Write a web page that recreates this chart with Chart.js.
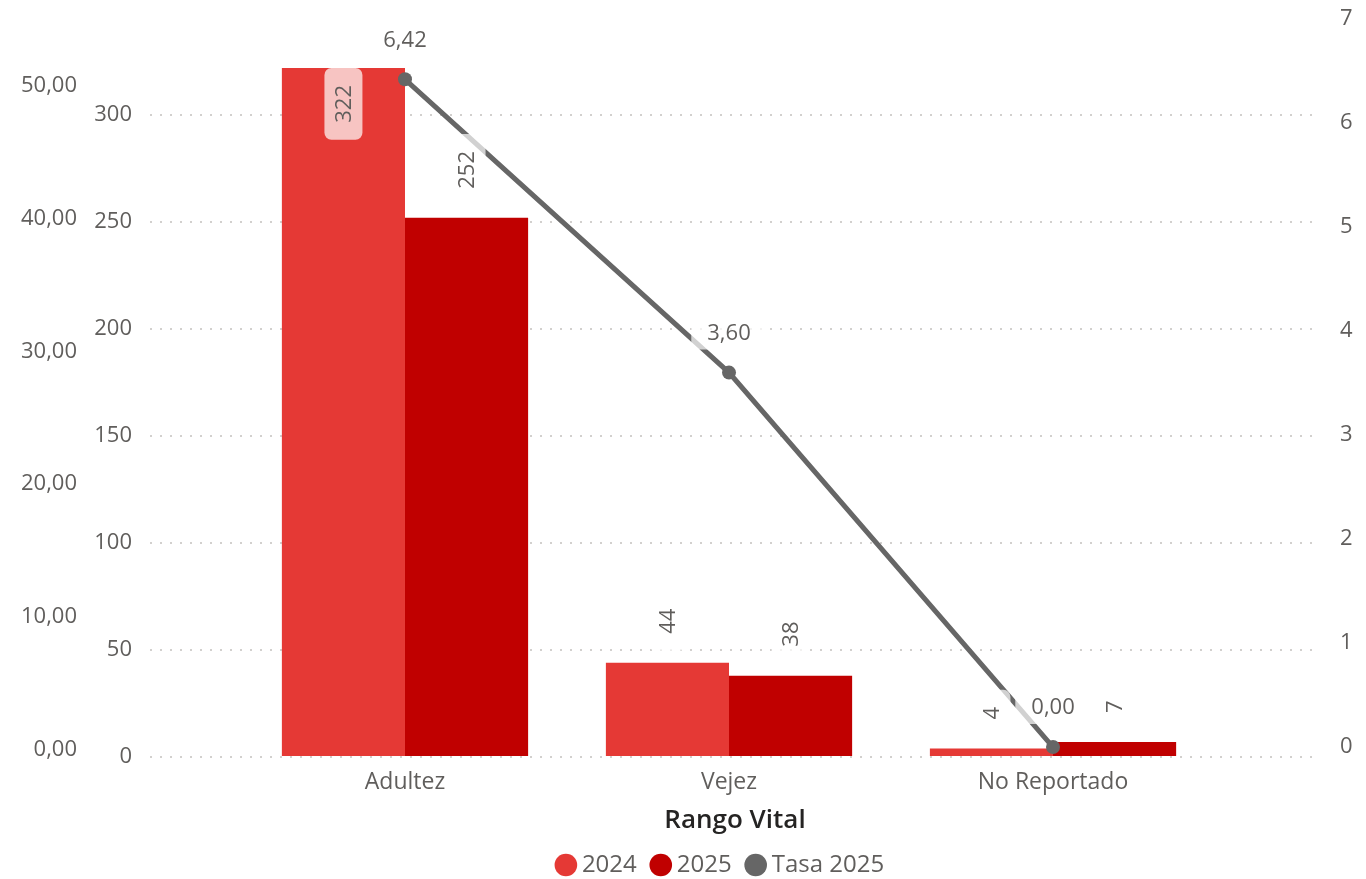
<!DOCTYPE html>
<html>
<head>
<meta charset="utf-8">
<script src="https://cdn.jsdelivr.net/npm/chart.js@4.4.1/dist/chart.umd.min.js"></script>
<style>
  html, body { margin: 0; padding: 0; background: #ffffff; }
</style>
</head>
<body>
<canvas id="myChart" width="1366" height="879"></canvas>
<script>
    var categories = ['Adultez', 'Vejez', 'No Reportado'];
    var casos2024 = [322, 44, 4];
    var casos2025 = [252, 38, 7];
    var tasa2025 = [6.42, 3.60, 0.00];

    var outerTicks = [0, 10, 20, 30, 40, 50];       // eje izquierdo exterior
    var casosTicks = [0, 50, 100, 150, 200, 250, 300];
    var tasaTicks = [0, 1, 2, 3, 4, 5, 6, 7];

    var gris = '#605E5C';
    var fuente = '"Open Sans", "Noto Sans", sans-serif';

    function coma(v) {
        return v.toFixed(2).replace('.', ',');
    }
    function fixedTicks(list) {
        return function(axis) {
            axis.ticks = list.map(function(v) { return { value: v } });
        }
    }
    function noPad(axis, w) {
        axis.width = w;
        axis.paddingTop = 0;
        axis.paddingBottom = 0;
    }
    // rango visible del eje de categorias (Power BI deja margen a los lados)
    function rango(start) {
        return function(axis) {
            axis._startValue = start;
            axis._valueRange = 3.611;
        }
    }

    // etiquetas de datos con fondo semitransparente (como Power BI)
    var etiquetas = {
        id: 'etiquetas',
        afterLayout: function(chart) {
            chart.legend.left += 40;
            chart.legend.right += 40;
        },
        afterDatasetsDraw: function(chart) {
            var ctx = chart.ctx;
            var area = chart.chartArea;
            ctx.save();
            ctx.font = '22px ' + fuente;
            ctx.textAlign = 'center';
            ctx.textBaseline = 'middle';
            for (var d = 0; d < 2; d++) {
                var meta = chart.getDatasetMeta(d);
                for (var i = 0; i < meta.data.length; i++) {
                    var bar = meta.data[i];
                    var txt = String(chart.data.datasets[d].data[i]);
                    var tw = ctx.measureText(txt).width;
                    var w = 38, h = tw + 34;
                    var top = bar.y - 12 - h;
                    if (top < area.top) top = bar.y;
                    ctx.fillStyle = 'rgba(255,255,255,0.7)';
                    ctx.beginPath();
                    ctx.roundRect(bar.x - w / 2, top, w, h, 7);
                    ctx.fill();
                    ctx.save();
                    ctx.translate(bar.x, top + h / 2);
                    ctx.rotate(-Math.PI / 2);
                    ctx.fillStyle = gris;
                    ctx.fillText(txt, 0, 1);
                    ctx.restore();
                }
            }
            var lmeta = chart.getDatasetMeta(2);
            for (var j = 0; j < lmeta.data.length; j++) {
                var pt = lmeta.data[j];
                var t = coma(tasa2025[j]);
                var tw2 = ctx.measureText(t).width;
                var bw = tw2 + 32, bh = 34;
                var cy = pt.y - 40;
                ctx.fillStyle = 'rgba(255,255,255,0.7)';
                ctx.beginPath();
                ctx.roundRect(pt.x - bw / 2, cy - bh / 2, bw, bh, 7);
                ctx.fill();
                ctx.fillStyle = gris;
                ctx.fillText(t, pt.x, cy + 1);
            }
            ctx.restore();
        }
    };

    var ctx = document.getElementById('myChart').getContext('2d');
    var myChart = new Chart(ctx, {
        type: 'bar',
        data: {
            labels: categories,
            datasets: [{
                label: '2024',
                data: casos2024,
                backgroundColor: '#E53935',
                borderWidth: 0,
                categoryPercentage: 0.76,
                barPercentage: 1.0,
                yAxisID: 'yCasos'
            }, {
                label: '2025',
                data: casos2025,
                backgroundColor: '#C00000',
                borderWidth: 0,
                categoryPercentage: 0.76,
                barPercentage: 1.0,
                yAxisID: 'yCasos'
            }, {
                type: 'line',
                label: 'Tasa 2025',
                data: tasa2025,
                borderColor: '#666666',
                backgroundColor: '#666666',
                borderWidth: 5,
                pointRadius: 7,
                pointBorderWidth: 0,
                pointBackgroundColor: '#666666',
                pointStyle: 'circle',
                order: -1,
                yAxisID: 'yTasa'
            }]
        },
        options: {
            responsive: false,
            animation: false,
            layout: { padding: { top: 19, bottom: -8, left: 0, right: 0 } },
            plugins: {
                tooltip: { enabled: false },
                legend: {
                    position: 'bottom',
                    labels: {
                        usePointStyle: true,
                        boxWidth: 8,
                        boxHeight: 16,
                        padding: 20,
                        color: gris,
                        font: { family: fuente, size: 24 },
                        sort: function(a, b) { return a.datasetIndex - b.datasetIndex },
                        generateLabels: function(chart) {
                            var items = Chart.defaults.plugins.legend.labels.generateLabels(chart);
                            items.forEach(function(it) {
                                it.lineWidth = 0;
                                it.strokeStyle = it.fillStyle;
                                it.pointStyle = 'circle';
                            });
                            return items;
                        }
                    }
                }
            },
            scales: {
                x: {
                    type: 'category',
                    position: 'bottom',
                    grid: { display: false, drawTicks: false },
                    border: { display: false },
                    afterBuildTicks: rango(-0.787),
                    ticks: {
                        color: gris,
                        font: { family: fuente, size: 23 },
                        padding: 12,
                        maxRotation: 0,
                        autoSkip: false
                    },
                    title: {
                        display: true,
                        text: 'Rango Vital',
                        color: '#252423',
                        font: { family: fuente, size: 26, weight: '600' },
                        padding: { top: 0, bottom: -3 }
                    },
                    afterFit: function(axis) {
                        axis.height = 879 + 8 - axis.chart.legend.height - 757;
                    }
                },
                yOuter: {
                    type: 'linear',
                    position: 'left',
                    display: true,
                    weight: 2,
                    min: -0.53,
                    max: 55.0,
                    grid: { display: false, drawTicks: false },
                    border: { display: false },
                    afterBuildTicks: fixedTicks(outerTicks),
                    ticks: {
                        color: gris,
                        font: { family: fuente, size: 22 },
                        padding: 13,
                        callback: function(v) { return coma(v) }
                    },
                    afterFit: function(axis) { noPad(axis, 90) }
                },
                yCasos: {
                    type: 'linear',
                    position: 'left',
                    weight: 1,
                    min: 0,
                    max: 344.9,
                    border: { display: false },
                    grid: {
                        color: '#D2D0CE',
                        lineWidth: 2,
                        drawTicks: false
                    },
                    afterBuildTicks: fixedTicks(casosTicks),
                    ticks: {
                        color: gris,
                        font: { family: fuente, size: 22 },
                        padding: 18
                    },
                    afterFit: function(axis) { noPad(axis, 60) }
                },
                yTasa: {
                    type: 'linear',
                    position: 'right',
                    min: -0.096,
                    max: 7,
                    border: { display: false },
                    grid: { display: false, drawTicks: false },
                    afterBuildTicks: fixedTicks(tasaTicks),
                    ticks: {
                        color: gris,
                        font: { family: fuente, size: 22 },
                        padding: 20
                    },
                    afterFit: function(axis) { noPad(axis, 46) }
                }
            }
        },
        plugins: [etiquetas]
    });

    // cuadrícula punteada
    myChart.options.scales.yCasos.grid.tickBorderDash = [2, 8];
    myChart.options.scales.yCasos.border.dash = [2, 8];
    myChart.update();
</script>
</body>
</html>
